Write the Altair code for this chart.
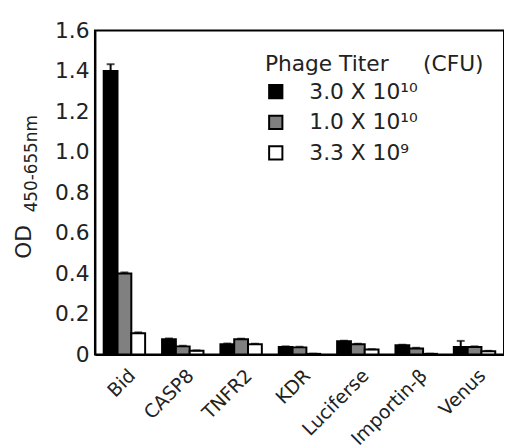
import altair as alt
import pandas as pd

categories = ["Bid", "CASP8", "TNFR2", "KDR", "Luciferse", "Importin-β", "Venus"]
series = ["3.0 X 10¹⁰", "1.0 X 10¹⁰", "3.3 X 10⁹"]
od_30e10 = [1.40, 0.075, 0.050, 0.037, 0.065, 0.045, 0.037]
od_10e10 = [0.40, 0.040, 0.075, 0.035, 0.050, 0.030, 0.037]
od_33e9 = [0.105, 0.018, 0.050, 0.003, 0.024, 0.003, 0.016]
err_30e10 = [0.033, 0.004, 0.004, 0.003, 0.003, 0.003, 0.030]
err_10e10 = [0.005, 0.003, 0.003, 0.003, 0.003, 0.003, 0.003]
err_33e9 = [0.004, 0.002, 0.003, 0.001, 0.002, 0.001, 0.002]
colors = ["#000000", "#808080", "#ffffff"]

rows = []
for s, vals, errs in zip(series, [od_30e10, od_10e10, od_33e9], [err_30e10, err_10e10, err_33e9]):
    for c, v, e in zip(categories, vals, errs):
        rows.append({"target": c, "titer": s, "od": v, "top": v + e})
df = pd.DataFrame(rows)

FONT = "DejaVu Sans"

x_enc = alt.X("target:N", sort=categories, title=None,
              scale=alt.Scale(paddingInner=0.29, paddingOuter=0.15),
              axis=alt.Axis(labelAngle=-45, labelFontSize=19, labelFont=FONT,
                            labelColor="#222", labelAlign="right", labelBaseline="middle",
                            labelPadding=18, labelOffset=8, ticks=False,
                            labelLimit=300, labelOverlap=False, labelBound=False,
                            domainColor="black", domainWidth=2))
xoff = alt.XOffset("titer:N", sort=series, scale=alt.Scale(domain=series))

base = alt.Chart(df)

bars = base.mark_bar(stroke="black", strokeWidth=2).encode(
    x=x_enc,
    xOffset=xoff,
    y=alt.Y("od:Q", title=None,
            scale=alt.Scale(domain=[0, 1.6], nice=False),
            axis=alt.Axis(values=[0, 0.2, 0.4, 0.6, 0.8, 1.0, 1.2, 1.4, 1.6],
                          labelExpr="datum.value == 0 ? '0' : format(datum.value, '.1f')",
                          labelFontSize=22, labelFont=FONT, labelColor="#222",
                          ticks=False, labelPadding=6, grid=False,
                          domainColor="black", domainWidth=2)),
    fill=alt.Fill("titer:N", sort=series,
                  scale=alt.Scale(domain=series, range=colors),
                  legend=alt.Legend(title="Phage Titer\u00a0\u00a0\u00a0\u00a0\u00a0(CFU)",
                                    orient="none", legendX=172, legendY=24,
                                    symbolType="square", symbolSize=180,
                                    symbolStrokeColor="black", symbolStrokeWidth=2,
                                    labelFontSize=22, labelFont=FONT, labelColor="#222",
                                    titleFontSize=22, titleFont=FONT, titleColor="#222",
                                    titleFontWeight="normal", titlePadding=5,
                                    titleLimit=400, labelLimit=300,
                                    labelOffset=23, rowPadding=9, padding=0)),
)

rules = base.mark_rule(color="black", strokeWidth=2).encode(
    x=alt.X("target:N", sort=categories),
    xOffset=xoff,
    y="od:Q",
    y2="top:Q",
)

caps = base.mark_tick(color="black", thickness=2, size=8).encode(
    x=alt.X("target:N", sort=categories),
    xOffset=xoff,
    y="top:Q",
)

od_txt = alt.Chart(pd.DataFrame({"t": ["OD"]})).mark_text(
    angle=270, fontSize=22, font=FONT, color="#222", align="center", baseline="middle"
).encode(text="t:N", x=alt.value(-72), y=alt.value(214))

sub_txt = alt.Chart(pd.DataFrame({"t": ["450-655nm"]})).mark_text(
    angle=270, fontSize=17, font=FONT, color="#222", align="center", baseline="middle"
).encode(text="t:N", x=alt.value(-64), y=alt.value(135))

chart = alt.layer(bars, rules, caps, od_txt, sub_txt).properties(
    width=414, height=328,
    autosize=alt.AutoSizeParams(type="none"),
    padding={"left": 88, "top": 20, "right": 0, "bottom": 92},
).configure_view(stroke="black", strokeWidth=2)

chart.save("out.html", embed_options={"renderer": "svg", "actions": False})
